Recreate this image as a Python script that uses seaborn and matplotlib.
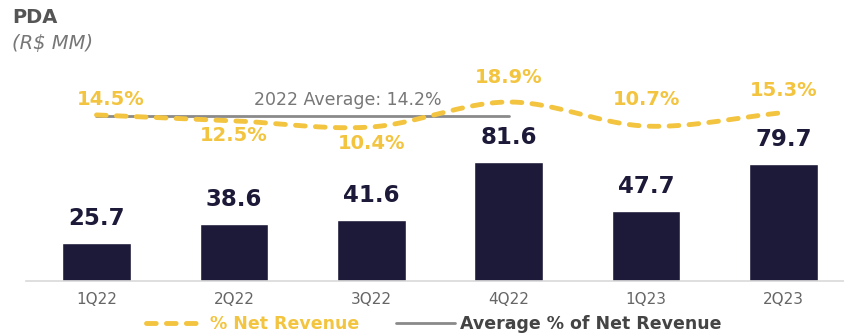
import numpy as np
import pandas as pd
import matplotlib
matplotlib.use("Agg")
import matplotlib.pyplot as plt
from matplotlib.lines import Line2D
import seaborn as sns

quarters = ["1Q22", "2Q22", "3Q22", "4Q22", "1Q23", "2Q23"]
pda_values = [25.7, 38.6, 41.6, 81.6, 47.7, 79.7]
pct_net_revenue = [14.5, 12.5, 10.4, 18.9, 10.7, 15.3]
avg_2022 = 14.2
avg_span = ["1Q22", "4Q22"]

NAVY = "#1c1a38"
YELLOW = "#f3c43f"
GRAY_LINE = "#8a8a8a"
TXT_GRAY = "#666666"

sns.set_theme(style="white")
plt.rcParams['font.family'] = ['DejaVu Sans']

W, H = 845, 335
fig = plt.figure(figsize=(W / 100, H / 100), dpi=100)

base_px = 280.7
top_px = 60.0
left_px = 26.0
right_px = 845.0
ax = fig.add_axes([left_px / W, (H - base_px) / H, (right_px - left_px) / W, (base_px - top_px) / H])

df = pd.DataFrame({"quarter": quarters, "value": pda_values})
sns.barplot(data=df, x="quarter", y="value", color=NAVY, saturation=1, width=0.5, ax=ax)

spacing = 137.4
x0 = -(96.5 - left_px) / spacing
x1 = x0 + (right_px - left_px) / spacing
ax.set_xlim(x0, x1)
px_per_unit = 1.458
ax.set_ylim(0, (base_px - top_px) / px_per_unit)

for i, v in enumerate(pda_values):
    ax.annotate(f"{v:.1f}", (i, v), xytext=(0, 13), textcoords="offset points",
                ha="center", va="baseline", fontsize=16.5, fontweight="bold", color=NAVY)

for s in ["top", "left", "right"]:
    ax.spines[s].set_visible(False)
ax.spines["bottom"].set_color("#d9d9d9")
ax.spines["bottom"].set_linewidth(1.2)
ax.set_yticks([])
ax.set_xlabel("")
ax.set_ylabel("")
ax.tick_params(axis="x", length=0, pad=8, labelsize=11, labelcolor=TXT_GRAY)

# secondary axis for percentages
ax2 = ax.twinx()
px_per_pct = 2.94
ref_pct, ref_px = 18.9, 102.0
ylo = ref_pct - (base_px - ref_px) / px_per_pct
yhi = ref_pct + (ref_px - top_px) / px_per_pct
ax2.set_ylim(ylo, yhi)
ax2.set_axis_off()

# smooth curve (Catmull-Rom) through the data points
xs = np.arange(len(pct_net_revenue), dtype=float)
ys = np.array(pct_net_revenue, dtype=float)
P = np.column_stack([xs, ys])
Pext = np.vstack([2 * P[0] - P[1], P, 2 * P[-1] - P[-2]])
cx, cy = [], []
t = np.linspace(0, 1, 40)
for k in range(1, len(Pext) - 2):
    p0, p1, p2, p3 = Pext[k - 1], Pext[k], Pext[k + 1], Pext[k + 2]
    seg = 0.5 * ((2 * p1)[None, :] + (-p0 + p2)[None, :] * t[:, None]
                 + (2 * p0 - 5 * p1 + 4 * p2 - p3)[None, :] * (t ** 2)[:, None]
                 + (-p0 + 3 * p1 - 3 * p2 + p3)[None, :] * (t ** 3)[:, None])
    cx.extend(seg[:, 0]); cy.extend(seg[:, 1])
DASH = (2.0, 2.1)
ax2.plot(cx, cy, color=YELLOW, lw=3.5, dashes=DASH, dash_capstyle="round", zorder=3)

# average line
i0, i1 = quarters.index(avg_span[0]), quarters.index(avg_span[1])
ax2.plot([i0, i1], [avg_2022, avg_2022], color=GRAY_LINE, lw=2, zorder=2)
ax2.annotate(f"2022 Average: {avg_2022}%", (1.83, avg_2022), xytext=(0, 8), textcoords="offset points",
             ha="center", va="baseline", fontsize=12.5, color="#777777")

# percentage labels
below = {1, 2}
below_off = [0, -4, -5, 0, 0, 0]
above_off = [7, 0, 0, 14, 15, 12]
for i, p in enumerate(pct_net_revenue):
    dx = 0.1 if i == 0 else 0
    if i in below:
        ax2.annotate(f"{p}%", (i + dx, p), xytext=(0, below_off[i]), textcoords="offset points",
                     ha="center", va="top", fontsize=14, fontweight="bold", color=YELLOW)
    else:
        ax2.annotate(f"{p}%", (i + dx, p), xytext=(0, above_off[i]), textcoords="offset points",
                     ha="center", va="baseline", fontsize=14, fontweight="bold", color=YELLOW)

# titles
fig.text(12 / W, 1 - 23 / H, "PDA", ha="left", va="baseline", fontsize=14, fontweight="bold", color="#555555")
fig.text(12 / W, 1 - 49 / H, "(R$ MM)", ha="left", va="baseline", fontsize=14, style="italic", color="#777777")

# legend
handles = [Line2D([0], [0], color=YELLOW, lw=3.5, dashes=DASH, dash_capstyle="round"),
           Line2D([0], [0], color=GRAY_LINE, lw=2)]
leg = fig.legend(handles, ["% Net Revenue", "Average % of Net Revenue"], loc="center",
                 bbox_to_anchor=(434 / W, 1 - 324 / H), ncol=2, frameon=False,
                 prop={"size": 12.5, "weight": "bold"}, handlelength=3.4, handletextpad=0.3,
                 columnspacing=2.1, borderpad=0)
leg.get_texts()[0].set_color(YELLOW)
leg.get_texts()[1].set_color("#444444")

fig.savefig("out.png", dpi=100)
